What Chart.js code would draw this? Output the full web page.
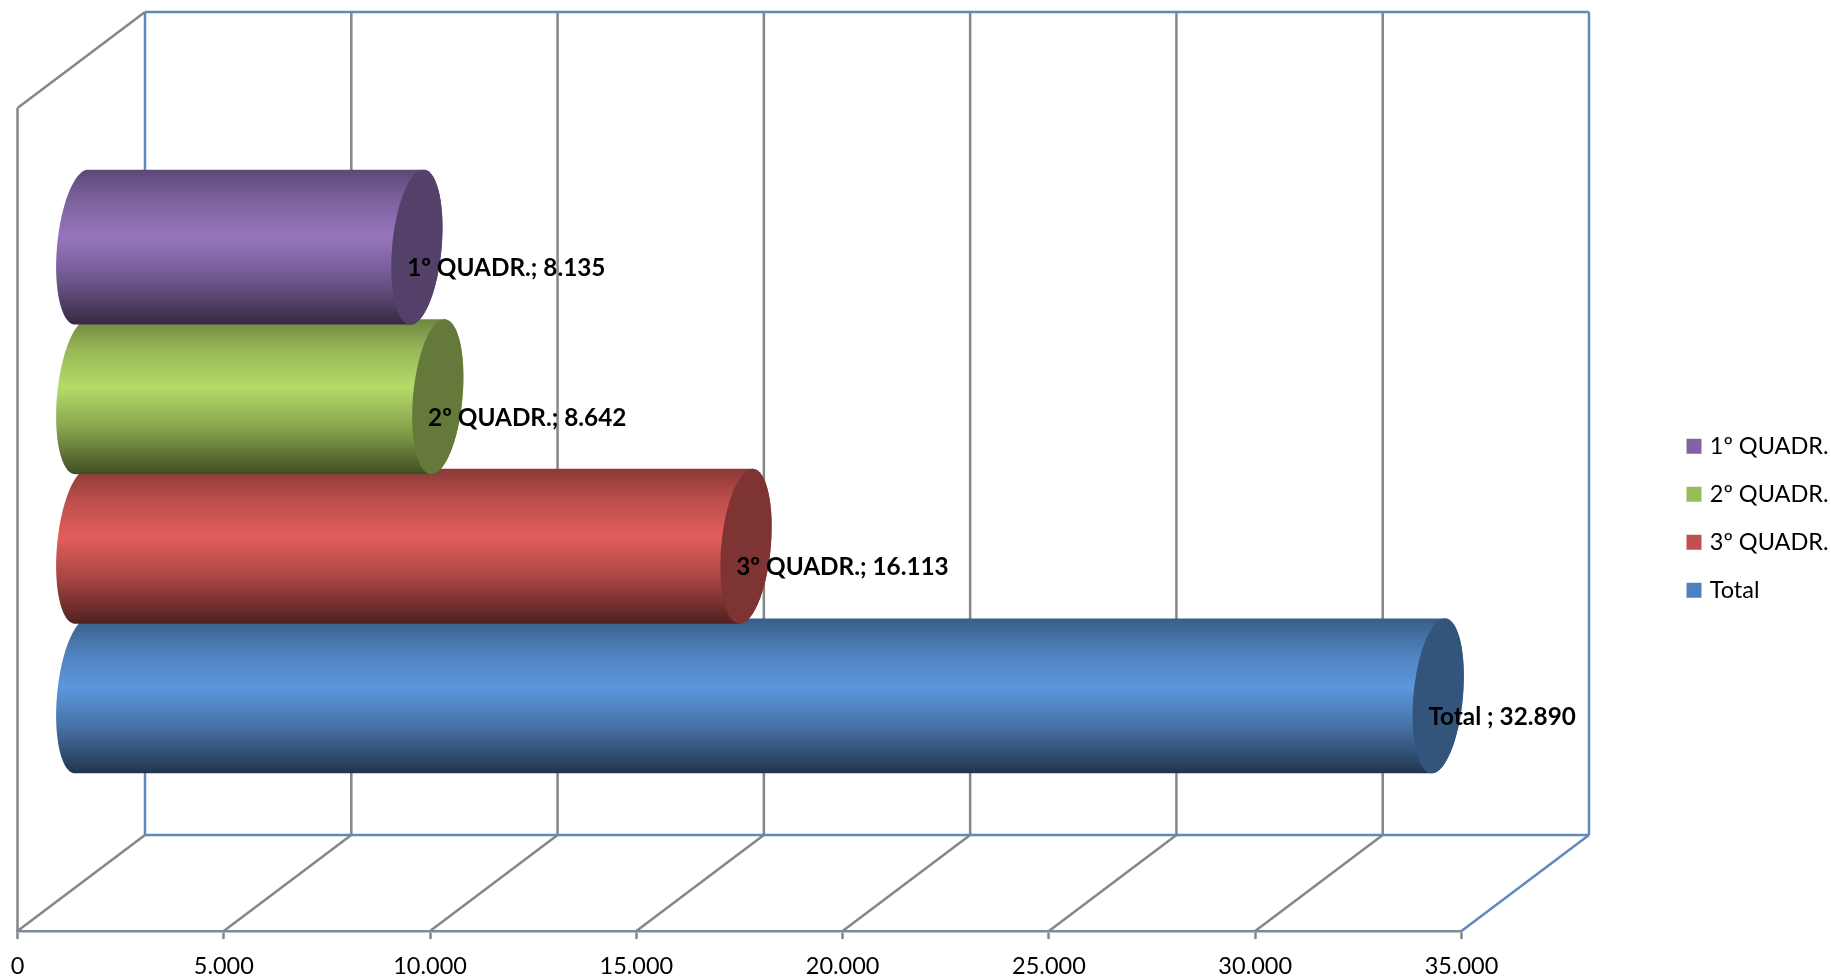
<!DOCTYPE html>
<html>
<head>
<meta charset="utf-8">
<style>
  html, body { margin: 0; background: #fff; }
  canvas { display: block; }
</style>
<script src="https://cdn.jsdelivr.net/npm/chart.js@4"></script>
</head>
<body>
<canvas id="myChart" width="1831" height="977"></canvas>
<script>
const categories = [''];
const seriesNames = ['1º QUADR.', '2º QUADR.', '3º QUADR.', 'Total '];
const seriesValues = [8135, 8642, 16113, 32890];
const seriesColors = ['#8064a2', '#9bbb59', '#c0504d', '#4f81bd'];
const tickValues = [0, 5000, 10000, 15000, 20000, 25000, 30000, 35000];
const tickLabels = ['0', '5.000', '10.000', '15.000', '20.000', '25.000', '30.000', '35.000'];

const depthX = 127.5, depthY = 96;
const gridGrey = '#868686', wallBlue = '#6089bd';

function shade(hex, f) {
  let n = parseInt(hex.slice(1), 16);
  let c = [n >> 16, (n >> 8) & 255, n & 255].map(v => Math.min(255, Math.round(v * f)));
  return 'rgb(' + c.join(',') + ')';
}

function seg(ctx, x1, y1, x2, y2, color) {
  ctx.strokeStyle = color;
  ctx.beginPath();
  ctx.moveTo(x1, y1);
  ctx.lineTo(x2, y2);
  ctx.stroke();
}

function drawWalls(chart) {
  let ctx = chart.ctx, area = chart.chartArea, xs = chart.scales.x;
  ctx.save();
  ctx.lineWidth = 2.5;
  let backTop = area.top - depthY, backBottom = area.bottom - depthY;
  tickValues.forEach((v, i) => {
    let x = xs.getPixelForValue(v);
    let edge = i == tickValues.length - 1;
    seg(ctx, x + depthX, backTop, x + depthX, backBottom, edge || i == 0 ? wallBlue : gridGrey);
    seg(ctx, x, area.bottom, x + depthX, backBottom, edge ? wallBlue : gridGrey);
  });
  let x0 = xs.getPixelForValue(0), x1 = xs.getPixelForValue(35000);
  seg(ctx, x0 + depthX, backTop, x1 + depthX, backTop, wallBlue);
  seg(ctx, x0 + depthX, backBottom, x1 + depthX, backBottom, wallBlue);
  seg(ctx, x0, area.top, x0, area.bottom, gridGrey);
  seg(ctx, x0, area.top, x0 + depthX, backTop, gridGrey);
  ctx.restore();
}

// half of a slanted ellipse, t in degrees
function capArc(ctx, cx, cy, a, b, k, from, to) {
  let steps = 60;
  for (let i = 0; i <= steps; i++) {
    let t = (from + (to - from) * i / steps) * Math.PI / 180;
    ctx.lineTo(cx + a * Math.cos(t) + k * Math.sin(t), cy - b * Math.sin(t));
  }
}

function drawCylinder(ctx, bar, color) {
  let h = bar.height + 5.4, b = h / 2, a = h * 0.16, k = h * 0.042;
  let cy = bar.y - depthY / 2;
  let left = bar.base + depthX / 2, right = bar.x + depthX / 2;

  let grad = ctx.createLinearGradient(0, cy - b, 0, cy + b);
  grad.addColorStop(0, shade(color, 0.72));
  grad.addColorStop(0.2, shade(color, 0.98));
  grad.addColorStop(0.44, shade(color, 1.17));
  grad.addColorStop(0.7, shade(color, 0.88));
  grad.addColorStop(1, shade(color, 0.41));

  ctx.fillStyle = grad;
  ctx.beginPath();
  capArc(ctx, right, cy, a, b, k, 90, -90);
  capArc(ctx, left, cy, a, b, k, -90, -270);
  ctx.closePath();
  ctx.fill();

  ctx.fillStyle = shade(color, 0.65);
  ctx.beginPath();
  capArc(ctx, right, cy, a, b, k, 0, 360);
  ctx.closePath();
  ctx.fill();
}

const cylinders = {
  id: 'cylinders',
  afterLayout(chart) {
    // legend sits in the free space right of the plot
    let l = chart.legend, w = l.width, h = l.height;
    l.left = 1665.5; l.right = l.left + w;
    l.top = 410; l.bottom = l.top + h;
  },
  beforeDatasetsDraw(chart) {
    let ctx = chart.ctx;
    drawWalls(chart);
    for (let i = seriesNames.length - 1; i >= 0; i--) {
      drawCylinder(ctx, chart.getDatasetMeta(i).data[0], seriesColors[i]);
    }
    ctx.save();
    ctx.fillStyle = '#000';
    ctx.font = 'bold 24.3px Lato';
    ctx.textBaseline = 'middle';
    seriesNames.forEach((name, i) => {
      let bar = chart.getDatasetMeta(i).data[0];
      let text = name + '; ' + seriesValues[i].toLocaleString('de-DE');
      ctx.fillText(text, bar.x + 54, bar.y - 27);
    });
    ctx.restore();
    return false;
  }
};

new Chart(document.getElementById('myChart'), {
  type: 'bar',
  data: {
    labels: categories,
    datasets: seriesNames.map((name, i) => ({
      label: name,
      data: [seriesValues[i]],
      backgroundColor: seriesColors[i],
      borderColor: seriesColors[i],
      borderWidth: 7,   // thick border keeps the legend swatch 15px but closer to its text
      categoryPercentage: 0.727,
      barPercentage: 1
    }))
  },
  options: {
    indexAxis: 'y',
    responsive: false,
    animation: false,
    layout: { padding: { left: 17.5, right: 369.5, top: 108, bottom: 0 } },
    scales: {
      x: {
        min: 0,
        max: 35000,
        afterBuildTicks: s => { s.ticks = tickValues.map(v => ({ value: v })); },
        afterFit: s => { s.height = 46; s.paddingLeft = 0; s.paddingRight = 0; },
        border: { color: '#7f8a99', width: 2.5 },
        grid: { drawOnChartArea: false, tickLength: 8, tickColor: gridGrey, tickWidth: 2.5 },
        ticks: {
          maxRotation: 0,
          autoSkip: false,
          padding: 13,
          color: '#000',
          font: { family: 'Lato', size: 23.5 },
          callback: (v, i) => tickLabels[i]
        }
      },
      y: { display: false }
    },
    plugins: {
      tooltip: { enabled: false },
      legend: {
        position: 'chartArea',
        align: 'start',
        labels: {
          boxWidth: 8,
          boxHeight: 8,
          padding: 24.5,
          color: '#000',
          font: { family: 'Lato', size: 23.5 }
        }
      }
    }
  },
  plugins: [cylinders]
});
</script>
</body>
</html>
